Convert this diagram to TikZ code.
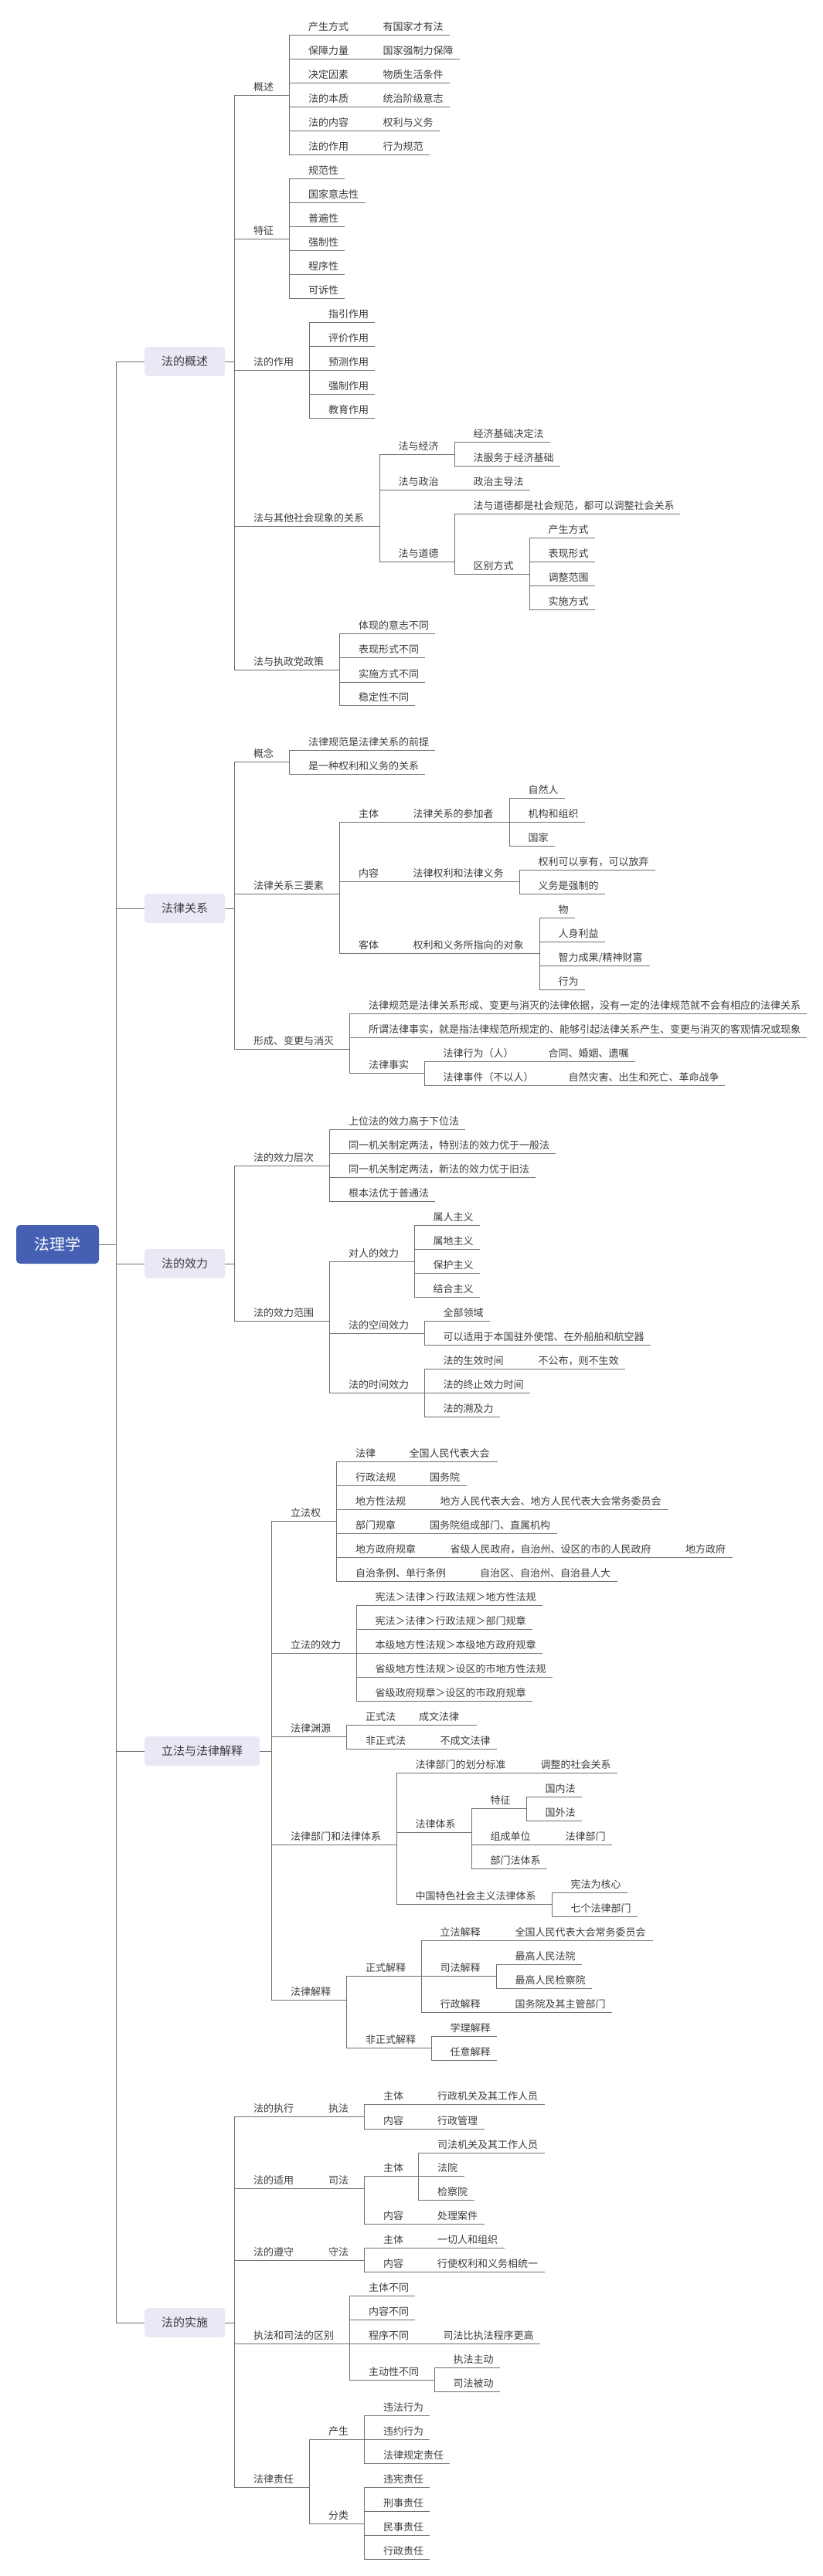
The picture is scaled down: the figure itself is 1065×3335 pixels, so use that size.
\documentclass[tikz,border=0pt]{standalone}
\usepackage{fontspec}
\setmainfont{Noto Sans CJK SC}
\definecolor{rootblue}{RGB}{69,95,178}
\definecolor{boxfill}{RGB}{233,233,245}
\definecolor{txtgray}{RGB}{60,60,60}
\definecolor{linegray}{RGB}{112,112,112}

\begin{document}
\begin{tikzpicture}[x=1pt,y=-1pt,
  ln/.style={draw=linegray,line width=1pt},
  tp/.style={anchor=base west,xshift=24pt,yshift=6pt,inner sep=0pt,text=txtgray,font=\fontsize{13pt}{13pt}\selectfont},
  lvl/.style={anchor=west,fill=boxfill,rounded corners=4pt,text=txtgray,inner xsep=22pt,inner ysep=0pt,minimum height=38pt,font=\fontsize{15pt}{15pt}\selectfont},
  rootbox/.style={fill=rootblue,rounded corners=5pt,text=white,minimum width=107pt,minimum height=50pt,font=\fontsize{20pt}{20pt}\selectfont}]
  \useasboundingbox (0,0) rectangle (1065,3335);

  %root
  \node[rootbox] (root) at (74.5,1611) {法理学};
  \coordinate (trunk) at (150,1611);
  \draw[ln] (root.east) -- (trunk);

  %main branches
  \node[lvl] (b1) at (187,468) {法的概述};
  \node[lvl] (b2) at (187,1176) {法律关系};
  \node[lvl] (b3) at (187,1636) {法的效力};
  \node[lvl] (b4) at (187,2267) {立法与法律解释};
  \node[lvl] (b5) at (187,3007) {法的实施};
  \draw[ln] (trunk) |- (b1.west);
  \draw[ln] (trunk) |- (b2.west);
  \draw[ln] (trunk) |- (b3.west);
  \draw[ln] (trunk) |- (b4.west);
  \draw[ln] (trunk) |- (b5.west);
  \draw[ln] (b1.east) -- (303.5,468) coordinate (b1-e);
  \draw[ln] (b2.east) -- (303.5,1176) coordinate (b2-e);
  \draw[ln] (b3.east) -- (303.5,1636) coordinate (b3-e);
  \draw[ln] (b4.east) -- (351.5,2267) coordinate (b4-e);
  \draw[ln] (b5.east) -- (303.5,3007) coordinate (b5-e);

  %法的概述
  \draw[ln] (b1-e) |- node[tp] (gs) {概述} (374.5,123) coordinate (gs-e);
  \draw[ln] (gs-e) |- node[tp] (gs1) {产生方式} (471,45) coordinate (gs1-e);
  \draw[ln] (gs1-e) |- node[tp] (gs1a) {有国家才有法} (581.5,45);
  \draw[ln] (gs-e) |- node[tp] (gs2) {保障力量} (471,76) coordinate (gs2-e);
  \draw[ln] (gs2-e) |- node[tp] (gs2a) {国家强制力保障} (595,76);
  \draw[ln] (gs-e) |- node[tp] (gs3) {决定因素} (471,107) coordinate (gs3-e);
  \draw[ln] (gs3-e) |- node[tp] (gs3a) {物质生活条件} (581.5,107);
  \draw[ln] (gs-e) |- node[tp] (gs4) {法的本质} (471,138) coordinate (gs4-e);
  \draw[ln] (gs4-e) |- node[tp] (gs4a) {统治阶级意志} (581.5,138);
  \draw[ln] (gs-e) |- node[tp] (gs5) {法的内容} (471,169) coordinate (gs5-e);
  \draw[ln] (gs5-e) |- node[tp] (gs5a) {权利与义务} (569,169);
  \draw[ln] (gs-e) |- node[tp] (gs6) {法的作用} (471,200) coordinate (gs6-e);
  \draw[ln] (gs6-e) |- node[tp] (gs6a) {行为规范} (556,200);

  \draw[ln] (b1-e) |- node[tp] (tz) {特征} (374.5,309) coordinate (tz-e);
  \draw[ln] (tz-e) |- node[tp] (tz1) {规范性} (446,231);
  \draw[ln] (tz-e) |- node[tp] (tz2) {国家意志性} (472.5,262);
  \draw[ln] (tz-e) |- node[tp] (tz3) {普遍性} (446,293);
  \draw[ln] (tz-e) |- node[tp] (tz4) {强制性} (446,324);
  \draw[ln] (tz-e) |- node[tp] (tz5) {程序性} (446,355);
  \draw[ln] (tz-e) |- node[tp] (tz6) {可诉性} (446,386);

  \draw[ln] (b1-e) |- node[tp] (zy) {法的作用} (400.5,479) coordinate (zy-e);
  \draw[ln] (zy-e) |- node[tp] (zy1) {指引作用} (485,417);
  \draw[ln] (zy-e) |- node[tp] (zy2) {评价作用} (485,448);
  \draw[ln] (zy-e) |- node[tp] (zy3) {预测作用} (485,479);
  \draw[ln] (zy-e) |- node[tp] (zy4) {强制作用} (485,510);
  \draw[ln] (zy-e) |- node[tp] (zy5) {教育作用} (485,541);

  \draw[ln] (b1-e) |- node[tp] (gx) {法与其他社会现象的关系} (491,681) coordinate (gx-e);
  \draw[ln] (gx-e) |- node[tp] (jj) {法与经济} (588,588) coordinate (jj-e);
  \draw[ln] (jj-e) |- node[tp] (jj1) {经济基础决定法} (711.5,572);
  \draw[ln] (jj-e) |- node[tp] (jj2) {法服务于经济基础} (725,603);
  \draw[ln] (gx-e) |- node[tp] (zz) {法与政治} (588,634) coordinate (zz-e);
  \draw[ln] (zz-e) |- node[tp] (zz1) {政治主导法} (686,634);
  \draw[ln] (gx-e) |- node[tp] (dd) {法与道德} (588,727) coordinate (dd-e);
  \draw[ln] (dd-e) |- node[tp] (dd1) {法与道德都是社会规范，都可以调整社会关系} (880,665);
  \draw[ln] (dd-e) |- node[tp] (qb) {区别方式} (685,743) coordinate (qb-e);
  \draw[ln] (qb-e) |- node[tp] (qb1) {产生方式} (769.5,696);
  \draw[ln] (qb-e) |- node[tp] (qb2) {表现形式} (769.5,727);
  \draw[ln] (qb-e) |- node[tp] (qb3) {调整范围} (769.5,758);
  \draw[ln] (qb-e) |- node[tp] (qb4) {实施方式} (769.5,789);

  \draw[ln] (b1-e) |- node[tp] (zc) {法与执政党政策} (439.5,867) coordinate (zc-e);
  \draw[ln] (zc-e) |- node[tp] (zc1) {体现的意志不同} (563,820);
  \draw[ln] (zc-e) |- node[tp] (zc2) {表现形式不同} (550,851);
  \draw[ln] (zc-e) |- node[tp] (zc3) {实施方式不同} (550,883);
  \draw[ln] (zc-e) |- node[tp] (zc4) {稳定性不同} (537,913);

  %法律关系
  \draw[ln] (b2-e) |- node[tp] (gn) {概念} (374.5,986) coordinate (gn-e);
  \draw[ln] (gn-e) |- node[tp] (gn1) {法律规范是法律关系的前提} (563,971);
  \draw[ln] (gn-e) |- node[tp] (gn2) {是一种权利和义务的关系} (550,1002);

  \draw[ln] (b2-e) |- node[tp] (ys) {法律关系三要素} (439.5,1157) coordinate (ys-e);
  \draw[ln] (ys-e) |- node[tp] (zt) {主体} (510,1064) coordinate (zt-e);
  \draw[ln] (zt-e) |- node[tp] (zt1) {法律关系的参加者} (659,1064) coordinate (zt1-e);
  \draw[ln] (zt1-e) |- node[tp] (zt1a) {自然人} (731,1033);
  \draw[ln] (zt1-e) |- node[tp] (zt1b) {机构和组织} (756.5,1064);
  \draw[ln] (zt1-e) |- node[tp] (zt1c) {国家} (718,1095);
  \draw[ln] (ys-e) |- node[tp] (nr) {内容} (510,1141) coordinate (nr-e);
  \draw[ln] (nr-e) |- node[tp] (nr1) {法律权利和法律义务} (672,1141) coordinate (nr1-e);
  \draw[ln] (nr1-e) |- node[tp] (nr1a) {权利可以享有，可以放弃} (847.5,1126);
  \draw[ln] (nr1-e) |- node[tp] (nr1b) {义务是强制的} (782.5,1157);
  \draw[ln] (ys-e) |- node[tp] (kt) {客体} (510,1234) coordinate (kt-e);
  \draw[ln] (kt-e) |- node[tp] (kt1) {权利和义务所指向的对象} (698,1234) coordinate (kt1-e);
  \draw[ln] (kt1-e) |- node[tp] (kt1a) {物} (744,1188);
  \draw[ln] (kt1-e) |- node[tp] (kt1b) {人身利益} (782.5,1219);
  \draw[ln] (kt1-e) |- node[tp] (kt1c) {智力成果/精神财富} (841,1250);
  \draw[ln] (kt1-e) |- node[tp] (kt1d) {行为} (756.5,1281);

  \draw[ln] (b2-e) |- node[tp] (xc) {形成、变更与消灭} (452.5,1358) coordinate (xc-e);
  \draw[ln] (xc-e) |- node[tp] (xc1) {法律规范是法律关系形成、变更与消灭的法律依据，没有一定的法律规范就不会有相应的法律关系} (1043.5,1312);
  \draw[ln] (xc-e) |- node[tp] (xc2) {所谓法律事实，就是指法律规范所规定的、能够引起法律关系产生、变更与消灭的客观情况或现象} (1043.5,1343);
  \draw[ln] (xc-e) |- node[tp] (ss) {法律事实} (549,1389) coordinate (ss-e);
  \draw[ln] (ss-e) |- node[tp] (ss1) {法律行为（人）} (685,1374) coordinate (ss1-e);
  \draw[ln] (ss1-e) |- node[tp] (ss1a) {合同、婚姻、遗嘱} (821.5,1374);
  \draw[ln] (ss-e) |- node[tp] (ss2) {法律事件（不以人）} (711,1405) coordinate (ss2-e);
  \draw[ln] (ss2-e) |- node[tp] (ss2a) {自然灾害、出生和死亡、革命战争} (938,1405);

  %法的效力
  \draw[ln] (b3-e) |- node[tp] (cc) {法的效力层次} (426.5,1509) coordinate (cc-e);
  \draw[ln] (cc-e) |- node[tp] (cc1) {上位法的效力高于下位法} (601.5,1462);
  \draw[ln] (cc-e) |- node[tp] (cc2) {同一机关制定两法，特别法的效力优于一般法} (719,1493);
  \draw[ln] (cc-e) |- node[tp] (cc3) {同一机关制定两法，新法的效力优于旧法} (693,1524);
  \draw[ln] (cc-e) |- node[tp] (cc4) {根本法优于普通法} (563,1555);

  \draw[ln] (b3-e) |- node[tp] (fw) {法的效力范围} (426.5,1710) coordinate (fw-e);
  \draw[ln] (fw-e) |- node[tp] (dr) {对人的效力} (536,1633) coordinate (dr-e);
  \draw[ln] (dr-e) |- node[tp] (dr1) {属人主义} (621,1586);
  \draw[ln] (dr-e) |- node[tp] (dr2) {属地主义} (621,1617);
  \draw[ln] (dr-e) |- node[tp] (dr3) {保护主义} (621,1648);
  \draw[ln] (dr-e) |- node[tp] (dr4) {结合主义} (621,1679);
  \draw[ln] (fw-e) |- node[tp] (kj) {法的空间效力} (549,1726) coordinate (kj-e);
  \draw[ln] (kj-e) |- node[tp] (kj1) {全部领域} (634,1710);
  \draw[ln] (kj-e) |- node[tp] (kj2) {可以适用于本国驻外使馆、在外船舶和航空器} (842,1741);
  \draw[ln] (fw-e) |- node[tp] (sj) {法的时间效力} (549,1803) coordinate (sj-e);
  \draw[ln] (sj-e) |- node[tp] (sj1) {法的生效时间} (672,1772) coordinate (sj1-e);
  \draw[ln] (sj1-e) |- node[tp] (sj1a) {不公布，则不生效} (809,1772);
  \draw[ln] (sj-e) |- node[tp] (sj2) {法的终止效力时间} (685.5,1803);
  \draw[ln] (sj-e) |- node[tp] (sj3) {法的溯及力} (647,1834);

  %立法与法律解释
  \draw[ln] (b4-e) |- node[tp] (lf) {立法权} (435.5,1969) coordinate (lf-e);
  \draw[ln] (lf-e) |- node[tp] (lf1) {法律} (505,1892) coordinate (lf1-e);
  \draw[ln] (lf1-e) |- node[tp] (lf1a) {全国人民代表大会} (643.5,1892);
  \draw[ln] (lf-e) |- node[tp] (lf2) {行政法规} (531.5,1923) coordinate (lf2-e);
  \draw[ln] (lf2-e) |- node[tp] (lf2a) {国务院} (604,1923);
  \draw[ln] (lf-e) |- node[tp] (lf3) {地方性法规} (545,1954) coordinate (lf3-e);
  \draw[ln] (lf3-e) |- node[tp] (lf3a) {地方人民代表大会、地方人民代表大会常务委员会} (865,1954);
  \draw[ln] (lf-e) |- node[tp] (lf4) {部门规章} (531.5,1985) coordinate (lf4-e);
  \draw[ln] (lf4-e) |- node[tp] (lf4a) {国务院组成部门、直属机构} (720.5,1985);
  \draw[ln] (lf-e) |- node[tp] (lf5) {地方政府规章} (558,2016) coordinate (lf5-e);
  \draw[ln] (lf5-e) |- node[tp] (lf5a) {省级人民政府，自治州、设区的市的人民政府} (862.5,2016) coordinate (lf5a-e);
  \draw[ln] (lf5a-e) |- node[tp] (lf5b) {地方政府} (947.5,2016);
  \draw[ln] (lf-e) |- node[tp] (lf6) {自治条例、单行条例} (596.5,2047) coordinate (lf6-e);
  \draw[ln] (lf6-e) |- node[tp] (lf6a) {自治区、自治州、自治县人大} (798.5,2047);

  \draw[ln] (b4-e) |- node[tp] (xl) {立法的效力} (461,2140) coordinate (xl-e);
  \draw[ln] (xl-e) |- node[tp] (xl1) {宪法＞法律＞行政法规＞地方性法规} (702,2078);
  \draw[ln] (xl-e) |- node[tp] (xl2) {宪法＞法律＞行政法规＞部门规章} (689,2109);
  \draw[ln] (xl-e) |- node[tp] (xl3) {本级地方性法规＞本级地方政府规章} (702,2140);
  \draw[ln] (xl-e) |- node[tp] (xl4) {省级地方性法规＞设区的市地方性法规} (715,2171);
  \draw[ln] (xl-e) |- node[tp] (xl5) {省级政府规章＞设区的市政府规章} (689,2202);

  \draw[ln] (b4-e) |- node[tp] (yy) {法律渊源} (448.5,2248) coordinate (yy-e);
  \draw[ln] (yy-e) |- node[tp] (yy1) {正式法} (517.5,2233) coordinate (yy1-e);
  \draw[ln] (yy1-e) |- node[tp] (yy1a) {成文法律} (616.5,2233);
  \draw[ln] (yy-e) |- node[tp] (yy2) {非正式法} (545,2264) coordinate (yy2-e);
  \draw[ln] (yy2-e) |- node[tp] (yy2a) {不成文法律} (642.5,2264);

  \draw[ln] (b4-e) |- node[tp] (bm) {法律部门和法律体系} (513,2388) coordinate (bm-e);
  \draw[ln] (bm-e) |- node[tp] (bm1) {法律部门的划分标准} (675,2295) coordinate (bm1-e);
  \draw[ln] (bm1-e) |- node[tp] (bm1a) {调整的社会关系} (798.5,2295);
  \draw[ln] (bm-e) |- node[tp] (tx) {法律体系} (610,2372) coordinate (tx-e);
  \draw[ln] (tx-e) |- node[tp] (tx1) {特征} (681,2341) coordinate (tx1-e);
  \draw[ln] (tx1-e) |- node[tp] (tx1a) {国内法} (753,2326);
  \draw[ln] (tx1-e) |- node[tp] (tx1b) {国外法} (753,2357);
  \draw[ln] (tx-e) |- node[tp] (tx2) {组成单位} (707,2388) coordinate (tx2-e);
  \draw[ln] (tx2-e) |- node[tp] (tx2a) {法律部门} (791.5,2388);
  \draw[ln] (tx-e) |- node[tp] (tx3) {部门法体系} (708,2419);
  \draw[ln] (bm-e) |- node[tp] (ts) {中国特色社会主义法律体系} (714,2465) coordinate (ts-e);
  \draw[ln] (ts-e) |- node[tp] (ts1) {宪法为核心} (811.5,2450);
  \draw[ln] (ts-e) |- node[tp] (ts2) {七个法律部门} (824.5,2481);

  \draw[ln] (b4-e) |- node[tp] (js) {法律解释} (448.5,2589) coordinate (js-e);
  \draw[ln] (js-e) |- node[tp] (zs) {正式解释} (545,2558) coordinate (zs-e);
  \draw[ln] (zs-e) |- node[tp] (zs1) {立法解释} (642,2512) coordinate (zs1-e);
  \draw[ln] (zs1-e) |- node[tp] (zs1a) {全国人民代表大会常务委员会} (845,2512);
  \draw[ln] (zs-e) |- node[tp] (zs2) {司法解释} (642,2558) coordinate (zs2-e);
  \draw[ln] (zs2-e) |- node[tp] (zs2a) {最高人民法院} (753,2543);
  \draw[ln] (zs2-e) |- node[tp] (zs2b) {最高人民检察院} (766,2574);
  \draw[ln] (zs-e) |- node[tp] (zs3) {行政解释} (642,2605) coordinate (zs3-e);
  \draw[ln] (zs3-e) |- node[tp] (zs3a) {国务院及其主管部门} (791.5,2605);
  \draw[ln] (js-e) |- node[tp] (fs) {非正式解释} (558,2651) coordinate (fs-e);
  \draw[ln] (fs-e) |- node[tp] (fs1) {学理解释} (642.5,2636);
  \draw[ln] (fs-e) |- node[tp] (fs2) {任意解释} (642.5,2667);

  %法的实施
  \draw[ln] (b5-e) |- node[tp] (zx) {法的执行} (400.5,2740) coordinate (zx-e);
  \draw[ln] (zx-e) |- node[tp] (zf) {执法} (471.5,2740) coordinate (zf-e);
  \draw[ln] (zf-e) |- node[tp] (zf1) {主体} (541.5,2724) coordinate (zf1-e);
  \draw[ln] (zf1-e) |- node[tp] (zf1a) {行政机关及其工作人员} (705,2724);
  \draw[ln] (zf-e) |- node[tp] (zf2) {内容} (541.5,2756) coordinate (zf2-e);
  \draw[ln] (zf2-e) |- node[tp] (zf2a) {行政管理} (627,2756);

  \draw[ln] (b5-e) |- node[tp] (sy) {法的适用} (400.5,2833) coordinate (sy-e);
  \draw[ln] (sy-e) |- node[tp] (sf) {司法} (471.5,2833) coordinate (sf-e);
  \draw[ln] (sf-e) |- node[tp] (sf1) {主体} (541.5,2817) coordinate (sf1-e);
  \draw[ln] (sf1-e) |- node[tp] (sf1a) {司法机关及其工作人员} (705,2787);
  \draw[ln] (sf1-e) |- node[tp] (sf1b) {法院} (600.5,2817);
  \draw[ln] (sf1-e) |- node[tp] (sf1c) {检察院} (613.5,2848);
  \draw[ln] (sf-e) |- node[tp] (sf2) {内容} (541.5,2879) coordinate (sf2-e);
  \draw[ln] (sf2-e) |- node[tp] (sf2a) {处理案件} (627,2879);

  \draw[ln] (b5-e) |- node[tp] (ds) {法的遵守} (400.5,2926) coordinate (ds-e);
  \draw[ln] (ds-e) |- node[tp] (sh) {守法} (471.5,2926) coordinate (sh-e);
  \draw[ln] (sh-e) |- node[tp] (sh1) {主体} (541.5,2910) coordinate (sh1-e);
  \draw[ln] (sh1-e) |- node[tp] (sh1a) {一切人和组织} (652.5,2910);
  \draw[ln] (sh-e) |- node[tp] (sh2) {内容} (541.5,2941) coordinate (sh2-e);
  \draw[ln] (sh2-e) |- node[tp] (sh2a) {行使权利和义务相统一} (705,2941);

  \draw[ln] (b5-e) |- node[tp] (qf) {执法和司法的区别} (452.5,3034) coordinate (qf-e);
  \draw[ln] (qf-e) |- node[tp] (qf1) {主体不同} (537,2972);
  \draw[ln] (qf-e) |- node[tp] (qf2) {内容不同} (537,3003);
  \draw[ln] (qf-e) |- node[tp] (qf3) {程序不同} (549,3034) coordinate (qf3-e);
  \draw[ln] (qf3-e) |- node[tp] (qf3a) {司法比执法程序更高} (699,3034);
  \draw[ln] (qf-e) |- node[tp] (qf4) {主动性不同} (562,3081) coordinate (qf4-e);
  \draw[ln] (qf4-e) |- node[tp] (qf4a) {执法主动} (647,3065);
  \draw[ln] (qf4-e) |- node[tp] (qf4b) {司法被动} (647,3096);

  \draw[ln] (b5-e) |- node[tp] (zr) {法律责任} (400.5,3220) coordinate (zr-e);
  \draw[ln] (zr-e) |- node[tp] (cs) {产生} (471.5,3158) coordinate (cs-e);
  \draw[ln] (cs-e) |- node[tp] (cs1) {违法行为} (556,3127);
  \draw[ln] (cs-e) |- node[tp] (cs2) {违约行为} (556,3158);
  \draw[ln] (cs-e) |- node[tp] (cs3) {法律规定责任} (582,3189);
  \draw[ln] (zr-e) |- node[tp] (fl) {分类} (471.5,3267) coordinate (fl-e);
  \draw[ln] (fl-e) |- node[tp] (fl1) {违宪责任} (556,3220);
  \draw[ln] (fl-e) |- node[tp] (fl2) {刑事责任} (556,3251);
  \draw[ln] (fl-e) |- node[tp] (fl3) {民事责任} (556,3282);
  \draw[ln] (fl-e) |- node[tp] (fl4) {行政责任} (556,3313);

\end{tikzpicture}
\end{document}
